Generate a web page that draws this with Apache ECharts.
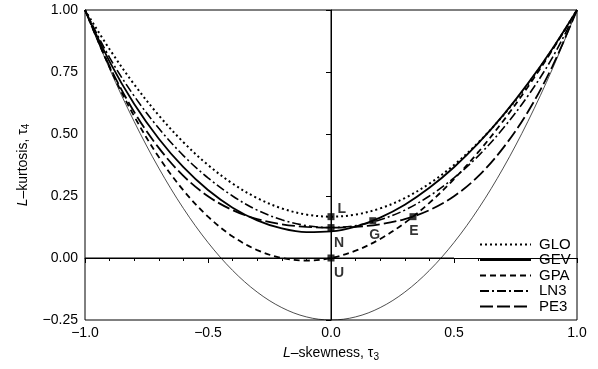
<!DOCTYPE html>
<html><head><meta charset="utf-8">
<script src="https://cdn.jsdelivr.net/npm/echarts@6/dist/echarts.min.js"></script>
<style>html,body{margin:0;padding:0;background:#fff}#c{width:598px;height:369px}</style>
</head><body><div id="c"></div>
<script>
const tau3 = [-1.0,-0.9,-0.8,-0.7,-0.6,-0.5,-0.4,-0.3,-0.2,-0.1,0.0,0.1,0.2,0.3,0.4,0.5,0.6,0.7,0.8,0.9,1.0];
const gloVals = [1.0,0.8417,0.7,0.575,0.4667,0.375,0.3,0.2417,0.2,0.175,0.1667,0.175,0.2,0.2417,0.3,0.375,0.4667,0.575,0.7,0.8417,1.0];
const gevVals = [1.0,0.792,0.621,0.481,0.366,0.274,0.203,0.152,0.119,0.104,0.107,0.1265,0.163,0.215,0.283,0.366,0.464,0.576,0.703,0.844,1.0];
const gpaVals = [1.0,0.7683,0.5714,0.407,0.2727,0.1667,0.087,0.0319,0.0,-0.0102,0.0,0.0294,0.0769,0.1415,0.2222,0.3182,0.4286,0.5526,0.6897,0.839,1.0];
const ln3Vals = [1.0,0.808,0.653,0.523,0.413,0.323,0.250,0.193,0.154,0.1306,0.1228,0.1306,0.154,0.193,0.250,0.323,0.413,0.523,0.653,0.808,1.0];
const pe3Vals = [1.0,0.773,0.589,0.444,0.331,0.249,0.193,0.157,0.136,0.1255,0.1224,0.1255,0.136,0.157,0.193,0.249,0.331,0.444,0.589,0.773,1.0];
const boundVals = [1.0,0.7625,0.55,0.3625,0.2,0.0625,-0.05,-0.1375,-0.2,-0.2375,-0.25,-0.2375,-0.2,-0.1375,-0.05,0.0625,0.2,0.3625,0.55,0.7625,1.0];
const pointNames = ['L','N','G','E','U'];
const pointX = [0, 0, 0.1699, 0.3333, 0];
const pointY = [0.1667, 0.1226, 0.1504, 0.1667, 0];
const vLine = [[0,-0.25],[0,1]];
const hLine = [[-1,0],[0.5,0]];
const xTicks = [-1.0,-0.5,0.0,0.5,1.0];
const yTicks = [-0.25,0,0.25,0.5,0.75,1.0];

const FONT = 'Liberation Sans';
const pair = (v) => tau3.map((t,i)=>[t,v[i]]);
const fmt = (v,d) => { const s = Math.abs(v).toFixed(d); return v < -1e-9 ? '\u2212'+s : s; };
const curve = (name, vals, type, w) => ({
  name, type:'line', data: pair(vals), smooth:0.35, symbol:'none',
  itemStyle:{color:'#000'},
  lineStyle:{color:'#000', width:w, type}, z:3, silent:true
});
const labelPos = {
  L:{position:'right', offset:[-2,-8]},
  N:{position:'bottom', offset:[8,0]},
  G:{position:'bottom', offset:[2,-1]},
  E:{position:'bottom', offset:[1,-1]},
  U:{position:'bottom', offset:[8,0]}
};
const chart = echarts.init(document.getElementById('c'));
chart.setOption({
  animation:false,
  textStyle:{fontFamily:FONT, color:'#000'},
  grid:{left:85, right:21, top:10, bottom:49, show:true, borderColor:'#000', borderWidth:1},
  xAxis:{type:'value', min:-1, max:1, interval:0.5,
    name:'{i|L}\u2013skewness, \u03c4{s|3}', nameLocation:'middle', nameGap:24,
    nameTextStyle:{fontSize:14, fontFamily:FONT, color:'#000', rich:{i:{fontStyle:'italic', fontSize:14, fontFamily:FONT}, s:{fontSize:10, verticalAlign:'bottom', padding:[8,0,0,0], fontFamily:FONT}}},
    axisLine:{lineStyle:{color:'#000', width:1}},
    axisTick:{show:true, inside:false, length:5, lineStyle:{color:'#000'}},
    minorTick:{show:true, splitNumber:5, length:3, lineStyle:{color:'#000'}},
    axisLabel:{fontSize:14, color:'#000', fontFamily:FONT, margin:6, formatter:(v)=>fmt(v,1)},
    splitLine:{show:false}},
  yAxis:{type:'value', min:-0.25, max:1, interval:0.25,
    name:'{i|L}\u2013kurtosis, \u03c4{s|4}', nameLocation:'middle', nameGap:50, nameRotate:90,
    nameTextStyle:{fontSize:14, fontFamily:FONT, color:'#000', rich:{i:{fontStyle:'italic', fontSize:14, fontFamily:FONT}, s:{fontSize:10, fontFamily:FONT, padding:[8,0,0,0]}}},
    axisLine:{lineStyle:{color:'#000', width:1}},
    axisTick:{show:true, inside:false, length:5, lineStyle:{color:'#000'}},
    axisLabel:{fontSize:14, color:'#000', fontFamily:FONT, margin:7, formatter:(v)=>fmt(v,2)},
    splitLine:{show:false}},
  legend:{data:['GLO','GEV','GPA','LN3','PE3'], orient:'vertical', left:479, top:237, padding:0,
    itemWidth:51, itemHeight:14, itemGap:0.5,
    itemStyle:{opacity:0},
    textStyle:{fontSize:15, lineHeight:14, fontFamily:FONT, color:'#000', padding:[0,0,0,3]}, selectedMode:false},
  series:[
    {type:'line', data:vLine, symbol:'none', lineStyle:{color:'#000', width:1}, silent:true, z:2},
    {type:'line', data:hLine, symbol:'none', lineStyle:{color:'#000', width:1.2}, silent:true, z:2},
    {type:'line', data:pair(boundVals), smooth:0.35, symbol:'none', lineStyle:{color:'#000', width:0.7}, silent:true, z:2},
    curve('GLO', gloVals, [2,3], 2),
    curve('GEV', gevVals, 'solid', 1.8),
    curve('GPA', gpaVals, [6,4], 1.8),
    curve('LN3', ln3Vals, [9,3,2,3], 1.6),
    curve('PE3', pe3Vals, [13,4], 1.8),
    {type:'scatter', symbol:'rect', symbolSize:7, itemStyle:{color:'#000'}, z:5, silent:true,
     data: pointNames.map((n,i)=>({value:[pointX[i],pointY[i]], name:n,
       label:Object.assign({show:true, formatter:n, fontSize:14, color:'#000', fontFamily:FONT, fontWeight:'bold'}, labelPos[n])}))}
  ]
});
</script></body></html>
